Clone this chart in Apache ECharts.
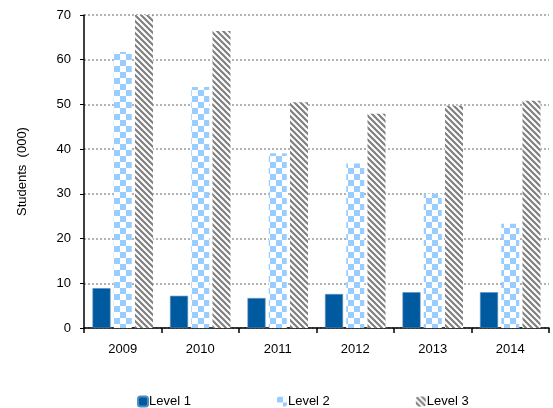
<!DOCTYPE html>
<html>
<head>
<meta charset="utf-8">
<script src="https://cdn.jsdelivr.net/npm/echarts@6/dist/echarts.min.js"></script>
<style>
  html, body { margin: 0; padding: 0; background: #fff; }
  #chart { width: 553px; height: 408px; }
</style>
</head>
<body>
<div id="chart"></div>
<script>
// Students by level and year (thousands)
const years = ['2009', '2010', '2011', '2012', '2013', '2014'];
const level1 = [8.9, 7.2, 6.7, 7.6, 8.0, 8.0];
const level2 = [61.7, 53.9, 39.1, 36.8, 30.0, 23.3];
const level3 = [70.2, 66.4, 50.5, 47.9, 49.7, 50.8];
const yTicks = [0, 10, 20, 30, 40, 50, 60, 70];

// Checkerboard fill for Level 2
function checkerTile() {
  const c = document.createElement('canvas');
  c.width = 12; c.height = 12;
  const g = c.getContext('2d');
  g.fillStyle = '#ffffff';
  g.fillRect(0, 0, 12, 12);
  g.fillStyle = '#99ccff';
  g.fillRect(0, 0, 6, 6);
  g.fillRect(6, 6, 6, 6);
  return c;
}

// Diagonal hatch fill for Level 3
function hatchTile() {
  const c = document.createElement('canvas');
  c.width = 6; c.height = 6;
  const g = c.getContext('2d');
  g.fillStyle = '#ffffff';
  g.fillRect(0, 0, 6, 6);
  g.strokeStyle = '#7f7f7f';
  g.lineWidth = 2.2;
  g.beginPath();
  g.moveTo(-1, -1); g.lineTo(7, 7);
  g.moveTo(-4, 2); g.lineTo(4, 10);
  g.moveTo(2, -4); g.lineTo(10, 4);
  g.stroke();
  return c;
}

const chart = echarts.init(document.getElementById('chart'), null, { renderer: 'canvas' });
const font = 'Liberation Sans, Arial, sans-serif';

chart.setOption({
  animation: false,
  grid: { left: 84, right: 4, top: 15, bottom: 80, containLabel: false },
  legend: {
    top: 390,
    left: 132,
    itemGap: 86,
    itemWidth: 10,
    itemHeight: 10,
    textStyle: { fontFamily: font, fontSize: 13, color: '#000', padding: [0, 0, 0, -4] },
    data: ['Level 1', 'Level 2', 'Level 3']
  },
  xAxis: {
    type: 'category',
    data: years,
    axisLine: { lineStyle: { color: '#000', width: 1.5 } },
    axisTick: { show: true, alignWithLabel: false, length: 5, lineStyle: { color: '#000', width: 1.5 } },
    axisLabel: { fontFamily: font, fontSize: 13, color: '#000', margin: 15 }
  },
  yAxis: {
    type: 'value',
    min: yTicks[0],
    max: yTicks[yTicks.length - 1],
    interval: 10,
    name: 'Students  (000)',
    nameLocation: 'middle',
    nameGap: 55,
    nameTextStyle: { fontFamily: font, fontSize: 13, color: '#000' },
    axisLine: { show: true, lineStyle: { color: '#000', width: 1.5 } },
    axisTick: { show: true, length: 4, lineStyle: { color: '#000', width: 1 } },
    axisLabel: { fontFamily: font, fontSize: 13, color: '#000', margin: 13 },
    splitLine: { lineStyle: { color: '#999', type: [2, 2], width: 1.5 } }
  },
  series: [
    {
      name: 'Level 1', type: 'bar', data: level1, barWidth: 18, barGap: '8%',
      itemStyle: { color: '#005aa0', borderColor: '#4f8cc0', borderWidth: 0.6 }
    },
    {
      name: 'Level 2', type: 'bar', data: level2, barWidth: 18, barGap: '8%',
      itemStyle: { color: { image: checkerTile(), repeat: 'repeat' } }
    },
    {
      name: 'Level 3', type: 'bar', data: level3, barWidth: 18, barGap: '18%',
      itemStyle: { color: { image: hatchTile(), repeat: 'repeat' } }
    }
  ]
});
</script>
</body>
</html>
